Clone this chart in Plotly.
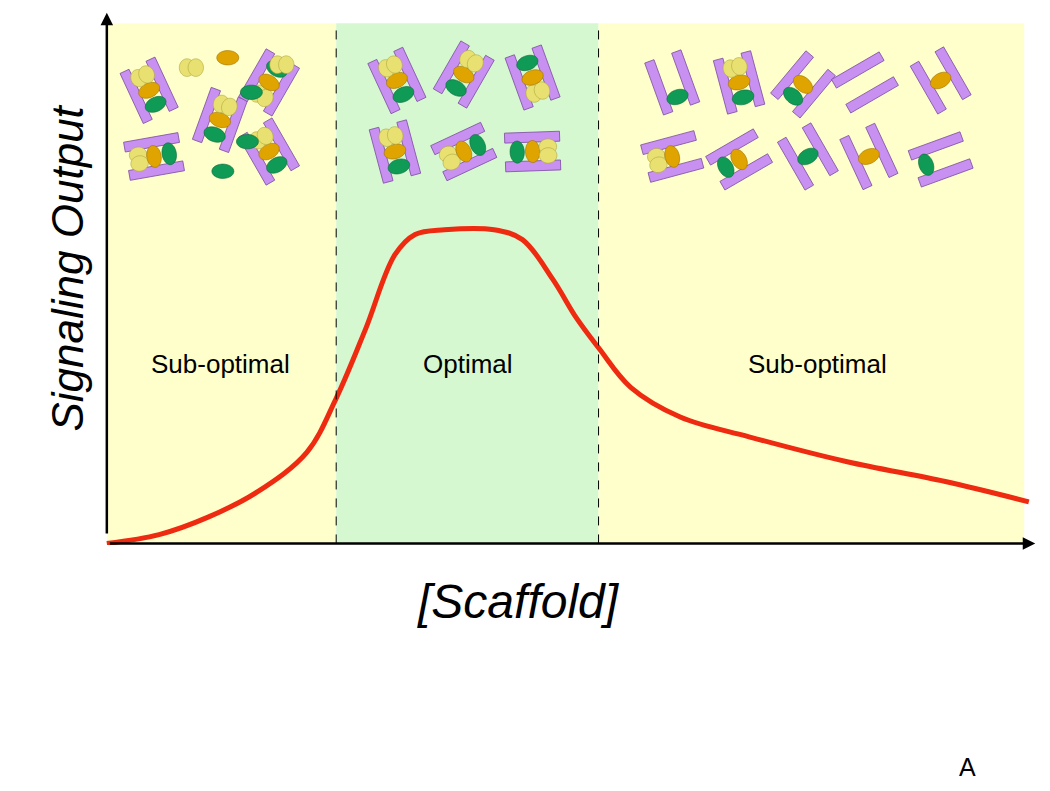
import numpy as np
import plotly.graph_objects as go

x_vals = [0, 5.7, 11.1, 16.4, 21.8, 25.0, 28.2, 31.4, 33.6, 36.8, 42.2, 45.3, 48.6, 51.2, 53.6, 57.1, 62.5, 70.0, 80.7, 91.4, 100.5]
y_vals = [0, 1.7, 5.1, 9.9, 17.5, 27.9, 41.2, 55.5, 59.4, 60.3, 60.3, 58.4, 50.8, 43.3, 37.6, 30.0, 24.3, 20.5, 15.7, 11.9, 8.0]
region_edges = [0, 25.0, 53.6, 100]
region_labels = ["Sub-optimal", "Optimal", "Sub-optimal"]
region_label_x = [12.4, 39.4, 77.5]
region_label_y = 34.5

# decorative scaffold icons: (cx px, cy px, angle deg, molecules)
icons = [
    (140, 78, -25, "gOy"), (212, 108, 20, "gOy"), (262, 70, 30, "yOg"), (262, 140, -30, "gOy"), (145, 145, 80, "yOg"),
    (392, 68, -25, "gOy"), (460, 62, 30, "gOy"), (530, 65, -20, "yOg"), (390, 140, -15, "gOy"), (460, 140, 65, "yOg"), (530, 140, 88, "gOy"),
    (672, 70, -20, "g  "), (740, 70, -15, "gOy"), (805, 72, 40, "gO "), (868, 70, 60, "   "), (945, 68, -30, " O "),
    (672, 145, 75, "yO "), (740, 148, 60, "gO "), (810, 145, -30, " g "), (872, 145, -25, " O "), (945, 148, 70, "g  "),
]
free_mols = [(183, 55, "y"), (220, 45, "O"), (244, 80, "g"), (215, 160, "g"), (275, 52, "y"), (240, 130, "g")]

L, R, T, B = 97, 1030, 10, 537
S = 1.12
def px2d(px, py):
    return (px - L) / (R - L) * 100, (B - py) / (B - T) * 100

def px2paper(px, py):
    return (px - L) / (R - L), (B - py) / (B - T)

def poly_path(pts):
    s = ""
    for i, (px, py) in enumerate(pts):
        x, y = px2d(px, py)
        s += ("M" if i == 0 else "L") + f"{x:.3f},{y:.3f} "
    return s + "Z"

def ellipse_pts(cx, cy, a, b, ang):
    t = np.linspace(0, 2 * np.pi, 28)
    ca, sa = np.cos(np.radians(ang)), np.sin(np.radians(ang))
    return [(cx + a * np.cos(k) * ca - b * np.sin(k) * sa, cy + a * np.cos(k) * sa + b * np.sin(k) * ca) for k in t]

shapes = []
colors = {"g": ("#0f9a55", "#0a6a3a"), "O": ("#e0a400", "#a07000"), "y": ("#e8e070", "#b0a840")}

def add_mol(cx, cy, m, ang):
    if m == "y":
        for off in (-4, 4):
            ox = cx + S * off * np.cos(np.radians(ang)); oy = cy + S * off * np.sin(np.radians(ang))
            shapes.append(dict(type="path", path=poly_path(ellipse_pts(ox, oy, 7 * S, 8 * S, ang)), fillcolor=colors[m][0], line=dict(color=colors[m][1], width=0.6)))
    elif m in colors:
        shapes.append(dict(type="path", path=poly_path(ellipse_pts(cx, cy, 10 * S, 6.5 * S, ang)), fillcolor=colors[m][0], line=dict(color=colors[m][1], width=0.6)))

for cx, cy, ang, mols in icons:
    a = np.radians(ang)
    du = np.array([np.sin(a), -np.cos(a)])   # along bars
    dv = np.array([np.cos(a), np.sin(a)])    # across
    c = np.array([cx, cy])
    for sv in (-13, 13):
        pts = [c + S * (du * u + dv * (sv + w)) for u, w in [(-25, -4.5), (25, -4.5), (25, 4.5), (-25, 4.5)]]
        shapes.append(dict(type="path", path=poly_path(pts), fillcolor="#c890f0", line=dict(color="#7a4aa0", width=0.8)))
    for m, u in zip(mols, (-14, 0, 14)):
        p = c + du * u * S
        add_mol(p[0], p[1], m, ang)
for cx, cy, m in free_mols:
    add_mol(cx, cy, m, 0)

bg = []
fills = ["#ffffcc", "#d6f8d0", "#ffffcc"]
for i in range(3):
    bg.append(dict(type="rect", x0=region_edges[i], x1=region_edges[i + 1], y0=0, y1=100, fillcolor=fills[i], line_width=0, layer="below"))
for e in region_edges[1:3]:
    bg.append(dict(type="line", x0=e, x1=e, y0=0, y1=100, line=dict(color="black", width=1, dash="dash")))

fig = go.Figure(go.Scatter(x=x_vals, y=y_vals, mode="lines", line=dict(color="#ee2a10", width=5, shape="spline", smoothing=1.0), hoverinfo="skip"))

ann = [dict(x=xx, y=region_label_y, text=t, showarrow=False, font=dict(size=26, color="black", family="Arial")) for xx, t in zip(region_label_x, region_labels)]
ylx, yly = px2paper(32, 260)
xlx, xly = px2paper(510, 622)
ax_, ay_ = px2paper(970, 775)
ann += [
    dict(x=0, y=102, ax=0, ay=0, xref="x", yref="y", axref="x", ayref="y", showarrow=True, arrowhead=2, arrowsize=1, arrowwidth=2.5, arrowcolor="black"),
    dict(x=101.2, y=0, ax=0, ay=0, xref="x", yref="y", axref="x", ayref="y", showarrow=True, arrowhead=2, arrowsize=1, arrowwidth=2.5, arrowcolor="black"),
    dict(x=ylx, y=yly, xref="paper", yref="paper", text="<i>Signaling Output</i>", textangle=-90, showarrow=False, font=dict(size=44, family="Arial", color="black")),
    dict(x=xlx, y=xly, xref="paper", yref="paper", text="<i>[Scaffold]</i>", showarrow=False, font=dict(size=48, family="Arial", color="black")),
    dict(x=ax_, y=ay_, xref="paper", yref="paper", text="A", showarrow=False, font=dict(size=25, family="Arial", color="black")),
]

fig.update_layout(
    width=1050, height=791, margin=dict(l=L, r=1050 - R, t=T, b=791 - B, autoexpand=False),
    plot_bgcolor="white", paper_bgcolor="white", showlegend=False,
    xaxis=dict(range=[0, 100], showgrid=False, zeroline=False, showticklabels=False, ticks=""),
    yaxis=dict(range=[0, 100], showgrid=False, zeroline=False, showticklabels=False, ticks=""),
    shapes=bg + shapes, annotations=ann,
)
fig.update_layout(xaxis_range=[-0.2, 101.5], yaxis_range=[-0.3, 101])
fig.write_html("out.html")
